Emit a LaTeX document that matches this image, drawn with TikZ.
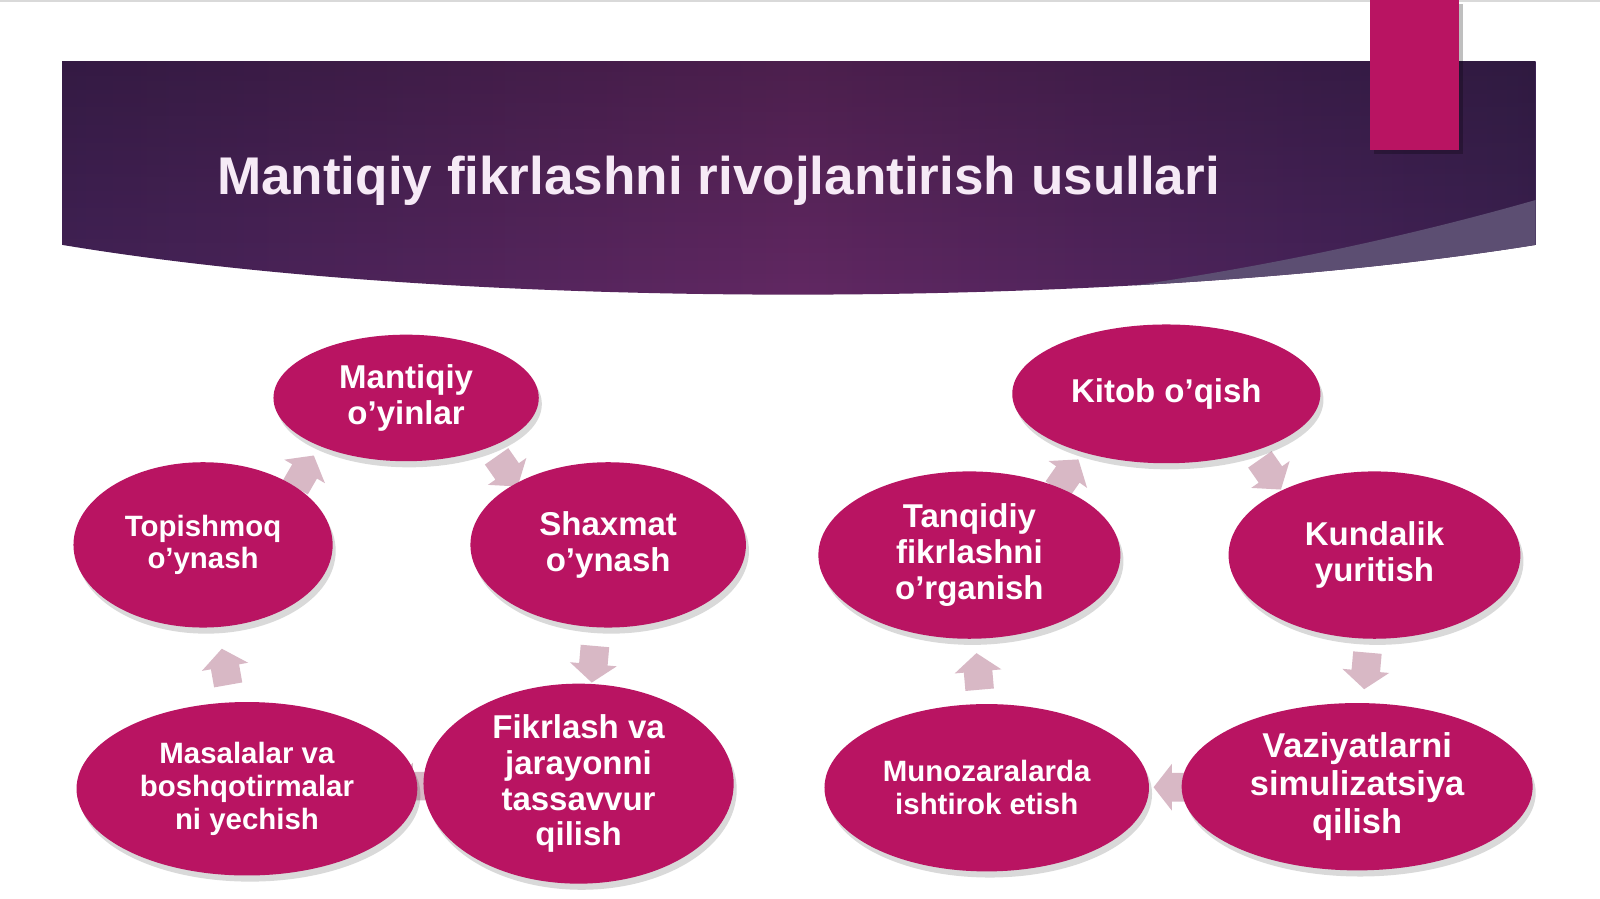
\documentclass[tikz,border=0pt]{standalone}
\usepackage{fontspec}
\setmainfont{Liberation Sans}
\usetikzlibrary{shapes.geometric,shadows,calc,fadings}
\definecolor{ell}{RGB}{185,20,98}
\definecolor{arrc}{RGB}{216,184,197}
\definecolor{titlec}{RGB}{246,234,246}
\definecolor{bandc}{RGB}{92,78,114}
\definecolor{hA}{RGB}{40,28,78}
\definecolor{hB}{RGB}{72,35,88}
\definecolor{hC}{RGB}{98,40,99}
\definecolor{hD}{RGB}{70,35,89}
\definecolor{hE}{RGB}{46,31,72}
\definecolor{hF}{RGB}{34,27,62}
\pgfdeclarehorizontalshading{hdrshade}{100bp}{color(0bp)=(hA); color(30bp)=(hB); color(50bp)=(hC); color(68bp)=(hD); color(85bp)=(hE); color(100bp)=(hF)}
\pgfdeclarelayer{bg}
\pgfdeclarelayer{arr}
\pgfsetlayers{bg,arr,main}
\newcommand{\ovbig}{\fontsize{9.2}{10}\selectfont\bfseries}
\newcommand{\ovsmall}{\fontsize{8.2}{9.1}\selectfont\bfseries}
\newcommand{\ovvaz}{\fontsize{9.6}{10.5}\selectfont\bfseries}
\tikzset{
  oval/.style={ellipse, fill=ell, text=white, align=center, inner sep=0pt,
    drop shadow={shadow xshift=0.3mm, shadow yshift=-0.6mm, opacity=0.15, fill=black}},
  barrow/.pic={\fill[arrc] (-18,-14) -- (0,-14) -- (0,-23) -- (18,0) -- (0,23) -- (0,14) -- (-18,14) -- cycle;}
}
\begin{document}
\begin{tikzpicture}[x=0.1mm,y=-0.1mm]
\useasboundingbox (0,0) rectangle (1568,881);
\begin{pgfonlayer}{bg}
\fill[white] (0,0) rectangle (1568,881);
\draw[black!15, line width=0.25mm] (0,1) -- (1568,1);
\end{pgfonlayer}
% header
\begin{scope}
\clip (61,60) -- (1505,60) -- (1505,240) .. controls (1100,305) and (450,305) .. (61,240) -- cycle;
\shade[shading=hdrshade] (61,60) rectangle (1505,300);
\fill[black, opacity=0.22, path fading=south] (61,60) rectangle (1505,300);
\fill[bandc] (1505,196) .. controls (1400,226) and (1250,262) .. (1060,287) -- (1060,400) -- (1600,400) -- (1600,196) -- cycle;
\end{scope}
\fill[ell, drop shadow={shadow xshift=0.4mm, shadow yshift=-0.4mm, opacity=0.25, fill=black}] (1343,0) rectangle (1430,147);
\node[anchor=base west, inner sep=0pt, text=titlec, font=\fontsize{14.8}{17}\selectfont\bfseries] (title) at (212,191) {Mantiqiy fikrlashni rivojlantirish usullari};
% left cycle
\node[oval, minimum width=26mm, minimum height=12.4mm, font=\ovbig] (mo) at (398,390) {Mantiqiy\\o’yinlar};
\node[oval, minimum width=27mm, minimum height=16.2mm, font=\ovbig] (sh) at (596,534) {Shaxmat\\o’ynash};
\node[oval, minimum width=30.4mm, minimum height=19.6mm, font=\ovbig] (fk) at (567,768) {Fikrlash va\\jarayonni\\tassavvur\\qilish};
\node[oval, minimum width=33.4mm, minimum height=17mm, font=\ovsmall] (ms) at (242,773) {Masalalar va\\boshqotirmalar\\ni yechish};
\node[oval, minimum width=25.4mm, minimum height=16.2mm, font=\ovsmall] (tp) at (199,534) {Topishmoq\\o’ynash};
% right cycle
\node[oval, minimum width=30.2mm, minimum height=13.6mm, font=\ovbig] (kt) at (1143,386) {Kitob o’qish};
\node[oval, minimum width=28.6mm, minimum height=16.4mm, font=\ovbig] (kd) at (1347,544) {Kundalik\\yuritish};
\node[oval, minimum width=34.4mm, minimum height=16.4mm, font=\ovvaz] (vz) at (1330,771) {Vaziyatlarni\\simulizatsiya\\qilish};
\node[oval, minimum width=31.8mm, minimum height=16.4mm, font=\ovsmall] (mn) at (967,772) {Munozaralarda\\ishtirok etish};
\node[oval, minimum width=29.6mm, minimum height=16.4mm, font=\ovbig] (tq) at (950,544) {Tanqidiy\\fikrlashni\\o’rganish};
% cycle arrows
\begin{pgfonlayer}{arr}
\pic[rotate=60] (a1) at ($(tp)!0.5!(mo)$) {barrow};
\pic[rotate=-55] (a2) at ($(mo)!0.5!(sh)$) {barrow};
\pic[rotate=-95] (a3) at ($(sh)!0.5!(fk)$) {barrow};
\pic[rotate=180] (a4) at ($(fk)!0.5!(ms)$) {barrow};
\pic[rotate=100] (a5) at ($(ms)!0.5!(tp)$) {barrow};
\pic[rotate=-55] (b1) at ($(kt)!0.5!(kd)$) {barrow};
\pic[rotate=-95] (b2) at ($(kd)!0.5!(vz)$) {barrow};
\pic[rotate=180] (b3) at ($(vz)!0.5!(mn)$) {barrow};
\pic[rotate=95] (b4) at ($(mn)!0.5!(tq)$) {barrow};
\pic[rotate=55] (b5) at ($(tq)!0.5!(kt)$) {barrow};
\end{pgfonlayer}
\end{tikzpicture}
\end{document}
